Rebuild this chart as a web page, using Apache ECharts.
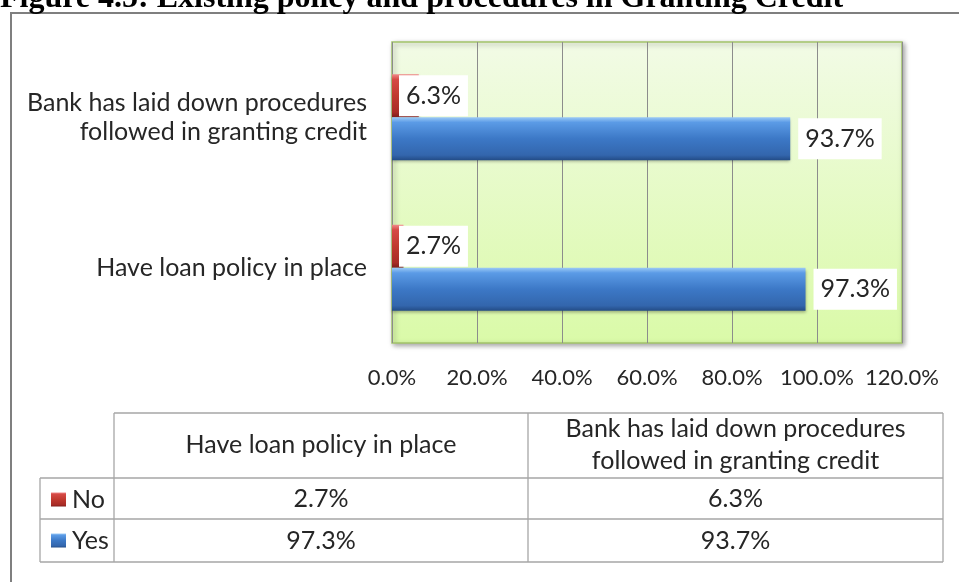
<!DOCTYPE html>
<html>
<head>
<meta charset="utf-8">
<script src="https://cdn.jsdelivr.net/npm/echarts@6/dist/echarts.min.js"></script>
<style>
html,body{margin:0;padding:0;background:#fff;}
#main{width:959px;height:582px;}
</style>
</head>
<body>
<div id="main"></div>
<script>
const titleText = 'Figure 4.5: Existing policy and procedures in Granting Credit';
const categories = ['Have loan policy in place', 'Bank has laid down procedures\nfollowed in granting credit'];
const seriesNames = ['No', 'Yes'];
const noValues = [2.7, 6.3];
const yesValues = [97.3, 93.7];
const axisMin = 0, axisMax = 120, axisStep = 20;

const FONT = 'Lato';
const TXT = '#262626';
const fmt = v => v.toFixed(1) + '%';

const blueFill = new echarts.graphic.LinearGradient(0, 0, 0, 1, [
  {offset: 0, color: '#9ccaf6'}, {offset: 0.12, color: '#5b9be6'},
  {offset: 0.5, color: '#3c78c6'}, {offset: 0.88, color: '#3366ad'}, {offset: 1, color: '#234c86'}]);
const redFill = new echarts.graphic.LinearGradient(0, 0, 0, 1, [
  {offset: 0, color: '#f08a8a'}, {offset: 0.12, color: '#d64a46'},
  {offset: 0.5, color: '#c0392f'}, {offset: 0.88, color: '#a82c26'}, {offset: 1, color: '#7e1d1a'}]);

const chart = echarts.init(document.getElementById('main'));

// table geometry
const tX0 = 40, tX1 = 114, tX2 = 528, tX3 = 943;
const tY0 = 413, tY1 = 478, tY2 = 519, tY3 = 562;
const lineStyle = {stroke: '#a6a6a6', lineWidth: 1.3};
const g = [];
g.push({type: 'rect', shape: {x: 11, y: 13, width: 1200, height: 1000}, style: {fill: 'none', stroke: '#7f7f7f', lineWidth: 2}});
g.push({type: 'text', x: 0, y: -1, style: {text: titleText, font: 'bold 32px "Liberation Serif"', fill: '#000', verticalAlign: 'middle'}});
// table lines
[[tX1, tY0, tX3, tY0], [tX0, tY1, tX3, tY1], [tX0, tY2, tX3, tY2], [tX0, tY3, tX3, tY3],
 [tX0, tY1, tX0, tY3], [tX1, tY0, tX1, tY3], [tX2, tY0, tX2, tY3], [tX3, tY0, tX3, tY3]].forEach(l => {
  g.push({type: 'line', shape: {x1: l[0], y1: l[1], x2: l[2], y2: l[3]}, style: lineStyle});
});
const colC = [(tX1 + tX2) / 2, (tX2 + tX3) / 2];
[0, 1].forEach((ci, k) => {
  g.push({type: 'text', x: colC[k], y: (tY0 + tY1) / 2 - 1, style: {text: categories[ci], font: '25px ' + FONT, fill: TXT, align: 'center', verticalAlign: 'middle', lineHeight: 32}});
  g.push({type: 'text', x: colC[k], y: (tY1 + tY2) / 2, style: {text: fmt(noValues[ci]), font: '25px ' + FONT, fill: TXT, align: 'center', verticalAlign: 'middle'}});
  g.push({type: 'text', x: colC[k], y: (tY2 + tY3) / 2, style: {text: fmt(yesValues[ci]), font: '25px ' + FONT, fill: TXT, align: 'center', verticalAlign: 'middle'}});
});

chart.setOption({
  animation: false,
  textStyle: {fontFamily: FONT},
  grid: {left: 392, top: 42, width: 510, height: 301, show: true,
    backgroundColor: new echarts.graphic.LinearGradient(0, 0, 0, 1, [{offset: 0, color: '#f2fbe6'}, {offset: 1, color: '#dafaa8'}]),
    borderColor: '#a3c46a', borderWidth: 1.5,
    shadowColor: 'rgba(0,0,0,0.35)', shadowBlur: 5, shadowOffsetX: 2, shadowOffsetY: 2},
  legend: {data: seriesNames, orient: 'vertical', left: 51, top: 487, padding: 0, itemGap: 16, itemWidth: 15, itemHeight: 14,
    icon: 'rect', textStyle: {fontSize: 25, color: TXT, fontFamily: FONT, padding: [0, 0, 0, 1]}},
  xAxis: {type: 'value', min: axisMin, max: axisMax, interval: axisStep,
    axisLine: {show: false}, axisTick: {show: false},
    splitLine: {show: true, lineStyle: {color: '#8c8c8c', width: 1}},
    axisLabel: {formatter: v => fmt(v), fontSize: 22, color: TXT, margin: 24, fontFamily: FONT}},
  yAxis: {type: 'category', data: categories,
    axisLine: {show: false}, axisTick: {show: false},
    axisLabel: {fontSize: 25, color: TXT, margin: 25, lineHeight: 29, align: 'right', fontFamily: FONT}},
  series: [
    {name: 'No', type: 'bar', data: noValues, barWidth: 43, barGap: '0%',
      itemStyle: {color: redFill, shadowColor: 'rgba(0,0,0,0.3)', shadowBlur: 3, shadowOffsetY: 2},
      label: {show: true, position: 'insideLeft', distance: 7, formatter: p => fmt(p.value),
        backgroundColor: '#fff', padding: [8, 7], fontSize: 25, color: TXT, fontFamily: FONT}},
    {name: 'Yes', type: 'bar', data: yesValues, barWidth: 43, barGap: '0%',
      itemStyle: {color: blueFill, shadowColor: 'rgba(0,0,0,0.3)', shadowBlur: 3, shadowOffsetY: 2},
      label: {show: true, position: 'right', distance: 8, formatter: p => fmt(p.value),
        backgroundColor: '#fff', padding: [8, 7], fontSize: 25, color: TXT, fontFamily: FONT}}
  ],
  graphic: g
});
</script>
</body>
</html>
